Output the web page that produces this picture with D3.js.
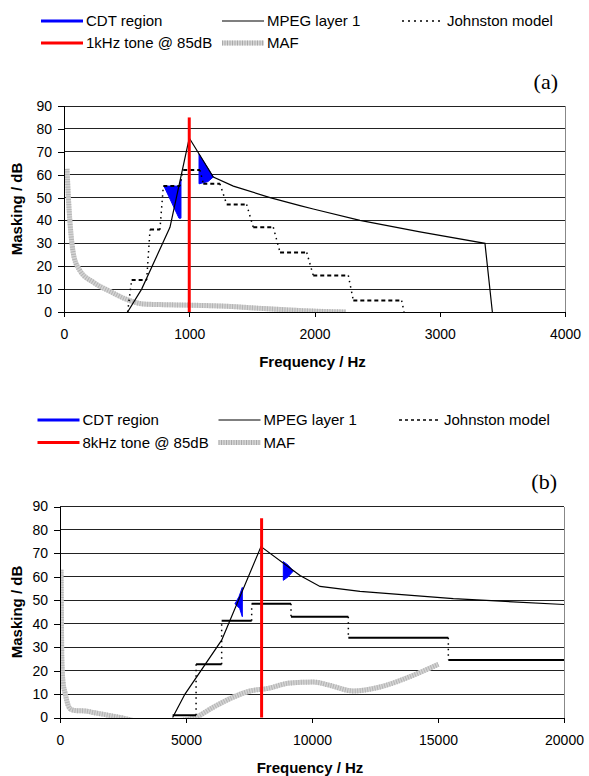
<!DOCTYPE html>
<html>
<head>
<meta charset="utf-8">
<script src="https://cdn.jsdelivr.net/npm/d3@7"></script>
<style>
  body { margin: 0; background: #fff; }
  text { font-family: Arial, "Liberation Sans", sans-serif; fill: #000; }
</style>
</head>
<body>
<svg id="chart" width="589" height="776"></svg>
<script>
// ---- data ----
// panel (a): 1 kHz tone
const mpegA = [[508,0],[620,10],[846,37],[1000,76],[1192,59],[1352,55],[1645,50],[1884,46.5],
  [1990,45],[2363,40],[2842,35],[3361,30],[3420,0]];
// johnston steps: [from Hz, to Hz, level dB]
const johnstonA = [[508,508,0],[540,660,14],[687,766,36],[793,926,55],[952,1086,62],[1112,1245,56],
  [1299,1458,47],[1511,1671,37],[1725,1938,26],[1990,2270,16],[2310,2696,5],[2715,2715,0]];
const mafA = [[24,62.5],[35,50],[48,39],[80,24],[128,18],[234,13],[367,9],[500,5.5],[633,3.5],
  [800,3.2],[1000,3],[1300,2.5],[1600,1.5],[1900,0.6],[2250,0]];
const cdtA = [
  [[798,55],[925,55],[934,58],[934,41],[918,41]],
  [[1078,69],[1078,56],[1150,57],[1192,59]]
];
const toneA = [[1000,0],[1000,85]];

// panel (b): 8 kHz tone
const mpegB = [[4470,0],[4960,10],[6415,33],[7976,72.9],[9524,60.6],[10317,55.9],[11905,53.8],
  [15608,50.7],[20000,48.2]];
const johnstonB = [[4470,5400,1],[5400,6415,22.7],[6415,7606,41.3],[7606,9167,48.5],[9167,11442,43],
  [11442,15410,34],[15410,20000,24.5]];
const mafB = [[40,63],[55,45],[70,26],[120,15],[200,10.5],[330,5],[460,3.3],[660,2.9],[1000,2.8],
  [1323,2.1],[1852,1.1],[2380,0],[3000,-1.5],[3800,-2.5],[4600,-1.5],[5360,0],[6085,4.4],[6878,8.7],
  [7540,11.3],[8201,12.3],[9127,14.7],[10053,15.1],[10714,13.7],[11640,11.3],[12698,13],[14021,18],
  [15013,22.7]];
const cdtB = [
  [[7235,55.5],[7235,43],[7130,46.5],[6944,48.5],[7100,51.5]],
  [[8862,66.5],[8862,58.5],[9050,60],[9260,62.5],[9050,65]]
];
const toneB = [[8000,0],[8000,85]];

const yTicks = [0,10,20,30,40,50,60,70,80,90];
const xTicksA = [0,1000,2000,3000,4000];
const xTicksB = [0,5000,10000,15000,20000];
const legendLabelsA = ["CDT region","MPEG layer 1","Johnston model","1kHz tone @ 85dB","MAF"];
const legendLabelsB = ["CDT region","MPEG layer 1","Johnston model","8kHz tone @ 85dB","MAF"];

const svg = d3.select("#chart");
const font = 'Arial, "Liberation Sans", sans-serif';

function drawPanel(p) {
  const x = d3.scaleLinear().domain([0, p.xTicks[p.xTicks.length - 1]]).range([p.x0, p.x1]);
  const y = d3.scaleLinear().domain([0, 90]).range([p.yBot, p.yTop]);
  const g = svg.append("g");

  // legend
  const legG = g.append("g");
  p.legend.forEach((lab, i) => {
    const col = [0, 1, 2, 0, 1][i], row = i < 3 ? 0 : 1;
    const lx = p.legCols[col], ly = p.legRows[row];
    const style = ["cdt","mpeg","john","tone","maf"][i];
    if (style === "maf") {
      legG.append("line").attr("x1", lx).attr("x2", lx + 42).attr("y1", ly).attr("y2", ly)
        .attr("stroke", "#d6d6d6").attr("stroke-width", 5);
      legG.append("line").attr("x1", lx).attr("x2", lx + 42).attr("y1", ly).attr("y2", ly)
        .attr("stroke", "#aaa").attr("stroke-width", 5).attr("stroke-dasharray", "1,1.5");
    } else {
      const ln = legG.append("line").attr("x1", lx).attr("x2", lx + 42).attr("y1", ly).attr("y2", ly);
      if (style === "cdt") ln.attr("stroke", "#0000ff").attr("stroke-width", 3);
      if (style === "tone") ln.attr("stroke", "#ff0000").attr("stroke-width", 3);
      if (style === "mpeg") ln.attr("stroke", "#000").attr("stroke-width", 1.2);
      if (style === "john") ln.attr("stroke", "#000").attr("stroke-width", 1.5)
        .attr("stroke-dasharray", p.legDash);
    }
    legG.append("text").attr("x", lx + 45).attr("y", ly).attr("dy", "0.35em")
      .style("font-size", "15px").text(lab);
  });

  // panel letter
  g.append("text").attr("x", p.x1 - 7).attr("y", p.letterY).attr("text-anchor", "end")
    .style("font-family", '"Liberation Serif", "Times New Roman", serif').style("font-size", "22px")
    .text(p.letter);

  // gridlines
  g.append("g").selectAll("line").data(yTicks.slice(1)).join("line")
    .attr("x1", p.x0).attr("x2", p.x1).attr("y1", d => y(d)).attr("y2", d => y(d))
    .attr("stroke", "#222").attr("stroke-width", 1).attr("shape-rendering", "crispEdges");
  g.append("line").attr("x1", p.x1).attr("x2", p.x1).attr("y1", p.yTop).attr("y2", p.yBot)
    .attr("stroke", "#888").attr("shape-rendering", "crispEdges");

  // clip
  const clipId = "clip" + p.letter.replace(/[()]/g, "");
  g.append("clipPath").attr("id", clipId).append("rect")
    .attr("x", p.x0).attr("y", p.yTop - 20).attr("width", p.x1 - p.x0).attr("height", p.yBot - p.yTop + 21);
  const plot = g.append("g").attr("clip-path", `url(#${clipId})`);

  const line = d3.line().x(d => x(d[0])).y(d => y(d[1]));
  const smooth = d3.line().x(d => x(d[0])).y(d => y(d[1])).curve(d3.curveMonotoneX);

  // MAF
  plot.append("path").attr("d", smooth(p.maf)).attr("fill", "none")
    .attr("stroke", "#d4d4d4").attr("stroke-width", 5);
  plot.append("path").attr("d", smooth(p.maf)).attr("fill", "none")
    .attr("stroke", "#b3b3b3").attr("stroke-width", 5).attr("stroke-dasharray", "1,1.5");

  // CDT regions
  plot.selectAll("polygon.cdt").data(p.cdt).join("polygon").attr("class", "cdt")
    .attr("points", d => d.map(q => [x(q[0]), y(q[1])].join(",")).join(" "))
    .attr("fill", "#0000ff").attr("stroke", "#0000ff").attr("stroke-width", 1);

  // Johnston model: flat parts and connectors
  const steps = p.johnston;
  const flats = steps.filter(s => s[1] > s[0]);
  plot.selectAll("line.jflat").data(flats).join("line").attr("class", "jflat")
    .attr("x1", d => x(d[0])).attr("x2", d => x(d[1])).attr("y1", d => y(d[2])).attr("y2", d => y(d[2]))
    .attr("stroke", "#000").attr("stroke-width", p.flatWidth).attr("stroke-dasharray", p.flatDash);
  const links = d3.pairs(steps);
  plot.selectAll("line.jlink").data(links).join("line").attr("class", "jlink")
    .attr("x1", d => x(d[0][1])).attr("y1", d => y(d[0][2]))
    .attr("x2", d => x(d[1][0])).attr("y2", d => y(d[1][2]))
    .attr("stroke", "#000").attr("stroke-width", 1.5).attr("stroke-dasharray", "1.5,4");

  // MPEG layer 1
  plot.append("path").attr("d", line(p.mpeg)).attr("fill", "none")
    .attr("stroke", "#000").attr("stroke-width", 1.2);

  // tone
  plot.append("path").attr("d", line(p.tone)).attr("fill", "none")
    .attr("stroke", "#ff0000").attr("stroke-width", 3);

  // axes
  const xAxis = g.append("g").attr("transform", `translate(0,${p.yBot})`)
    .call(d3.axisBottom(x).tickValues(p.xTicks).tickSize(5).tickPadding(p.xPad).tickFormat(d3.format("d")));
  const yAxis = g.append("g").attr("transform", `translate(${p.x0},0)`)
    .call(d3.axisLeft(y).tickValues(yTicks).tickSize(6).tickPadding(p.yPad));
  [xAxis, yAxis].forEach(a => {
    a.attr("font-family", font).attr("font-size", 14);
    a.selectAll("line, path").attr("stroke", "#000").attr("shape-rendering", "crispEdges");
    a.selectAll("text").attr("fill", "#000");
  });

  // axis titles
  g.append("text").attr("x", (p.x0 + p.x1) / 2 - 2).attr("y", p.xTitleY).attr("text-anchor", "middle")
    .style("font-weight", "bold").style("font-size", "15px").text("Frequency / Hz");
  g.append("text").attr("transform", `translate(21.5,${(p.yTop + p.yBot) / 2}) rotate(-90)`)
    .attr("text-anchor", "middle").style("font-weight", "bold").style("font-size", "15px")
    .text("Masking / dB");
}

drawPanel({
  letter: "(a)", x0: 64, x1: 565, yTop: 106, yBot: 312, xTicks: xTicksA,
  mpeg: mpegA, johnston: johnstonA, maf: mafA, cdt: cdtA, tone: toneA,
  legend: legendLabelsA, legCols: [41, 222, 402], legRows: [21, 43], legDash: "2,4",
  letterY: 89, xPad: 12, yPad: 6, xTitleY: 367, flatWidth: 2, flatDash: "4,3"
});
drawPanel({
  letter: "(b)", x0: 60, x1: 564, yTop: 506.5, yBot: 717.5, xTicks: xTicksB,
  mpeg: mpegB, johnston: johnstonB, maf: mafB, cdt: cdtB, tone: toneB,
  legend: legendLabelsB, legCols: [37.5, 218.5, 399], legRows: [420, 442.5], legDash: "3,3",
  letterY: 489, xPad: 13, yPad: 6, xTitleY: 773, flatWidth: 2, flatDash: null
});
</script>
</body>
</html>
